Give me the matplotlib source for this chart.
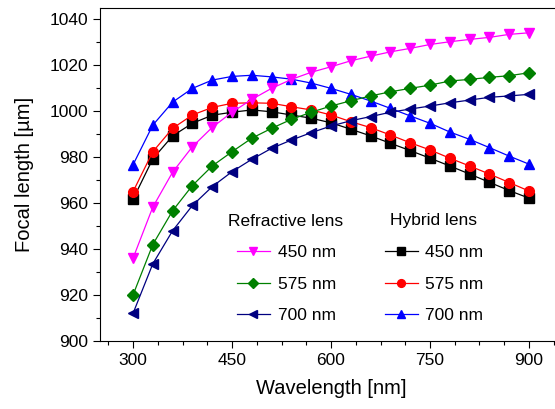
"""Focal length vs wavelength for refractive and hybrid lenses."""

import matplotlib

matplotlib.use("Agg")
import matplotlib.pyplot as plt
from matplotlib.ticker import MultipleLocator

plt.rcParams["font.family"] = ["Liberation Sans", "DejaVu Sans"]

wavelength = [300, 330, 360, 390, 420, 450, 480, 510, 540, 570, 600,
              630, 660, 690, 720, 750, 780, 810, 840, 870, 900]

refr_450 = [936.0, 958.3, 973.5, 984.6, 993.0, 999.6, 1005.2, 1010.0, 1013.9, 1017.0, 1019.4,
            1022.0, 1024.0, 1025.9, 1027.4, 1029.1, 1030.3, 1031.3, 1032.2, 1033.5, 1034.2]
refr_575 = [920.0, 942.0, 956.7, 967.7, 976.2, 982.4, 988.3, 992.6, 996.5, 999.6, 1002.3,
            1004.6, 1006.7, 1008.5, 1010.0, 1011.4, 1013.2, 1013.9, 1014.8, 1015.5, 1016.8]
refr_700 = [912.0, 933.6, 948.0, 959.0, 967.2, 973.7, 979.1, 983.9, 987.5, 990.7, 993.6,
            995.9, 997.7, 999.6, 1001.0, 1002.3, 1003.7, 1004.9, 1006.1, 1006.7, 1007.4]

hyb_450 = [961.7, 979.3, 989.3, 994.8, 998.3, 999.6, 1000.6, 999.8, 998.4, 997.0, 995.0,
           992.2, 989.3, 986.1, 982.9, 979.6, 976.2, 972.7, 969.1, 965.5, 962.2]
hyb_575 = [965.0, 982.4, 992.6, 998.4, 1001.7, 1003.5, 1003.7, 1003.5, 1002.0, 1000.6, 998.4,
           995.5, 992.9, 989.7, 986.3, 983.2, 979.6, 976.2, 972.7, 969.0, 965.3]
hyb_700 = [976.7, 994.0, 1004.0, 1010.0, 1013.6, 1015.2, 1015.7, 1015.0, 1014.0, 1012.3, 1010.0,
           1007.4, 1004.5, 1001.3, 998.0, 994.8, 991.0, 987.8, 984.2, 980.5, 977.0]

labels = ["450 nm", "575 nm", "700 nm"]

fig = plt.figure(figsize=(5.55, 4.09), dpi=100)
ax = fig.add_axes([0.1802, 0.1663, 0.8324, 0.8142])

line_kw = dict(linewidth=0.9)
hybrid = [
    ax.plot(wavelength, hyb_450, color="black", marker="s", markersize=6.5, **line_kw)[0],
    ax.plot(wavelength, hyb_575, color="#FF0000", marker="o", markersize=7, **line_kw)[0],
    ax.plot(wavelength, hyb_700, color="#0000FF", marker="^", markersize=7.5, **line_kw)[0],
]
refractive = [
    ax.plot(wavelength, refr_450, color="#FF00FF", marker="v", markersize=7.5, **line_kw)[0],
    ax.plot(wavelength, refr_575, color="#008000", marker="D", markersize=6, **line_kw)[0],
    ax.plot(wavelength, refr_700, color="#000080", marker="<", markersize=7.5, **line_kw)[0],
]

ax.set_xlim(250, 950)
ax.set_ylim(900, 1045)
ax.xaxis.set_major_locator(MultipleLocator(150))
ax.xaxis.set_minor_locator(MultipleLocator(37.5))
ax.yaxis.set_major_locator(MultipleLocator(20))
ax.yaxis.set_minor_locator(MultipleLocator(10))
ax.tick_params(which="both", direction="out", top=False, right=False, labelsize=12.5, width=0.8)
ax.tick_params(which="major", length=5)
ax.tick_params(which="minor", length=3)
ax.spines["right"].set_visible(False)
for spine in ax.spines.values():
    spine.set_linewidth(0.8)

ax.set_xlabel("Wavelength [nm]", fontsize=14.5, labelpad=8)
ax.set_ylabel("Focal length [\u00b5m]", fontsize=14.5, labelpad=11)

fig.legend(
    refractive + hybrid,
    labels + labels,
    ncol=2,
    loc="upper left",
    bbox_to_anchor=(237 / 555, 1 - 245 / 409),
    bbox_transform=fig.transFigure,
    frameon=False,
    fontsize=12.5,
    markerscale=0.8,
    borderpad=0,
    borderaxespad=0,
    handlelength=1.9,
    handletextpad=0.45,
    columnspacing=2.8,
    labelspacing=0.95,
)
fig.text(228 / 555, 1 - 221 / 409, "Refractive lens", fontsize=12.5, ha="left", va="center")
fig.text(390 / 555, 1 - 221 / 409, "Hybrid lens", fontsize=12.5, ha="left", va="center")

fig.savefig("out.png", dpi=100)
